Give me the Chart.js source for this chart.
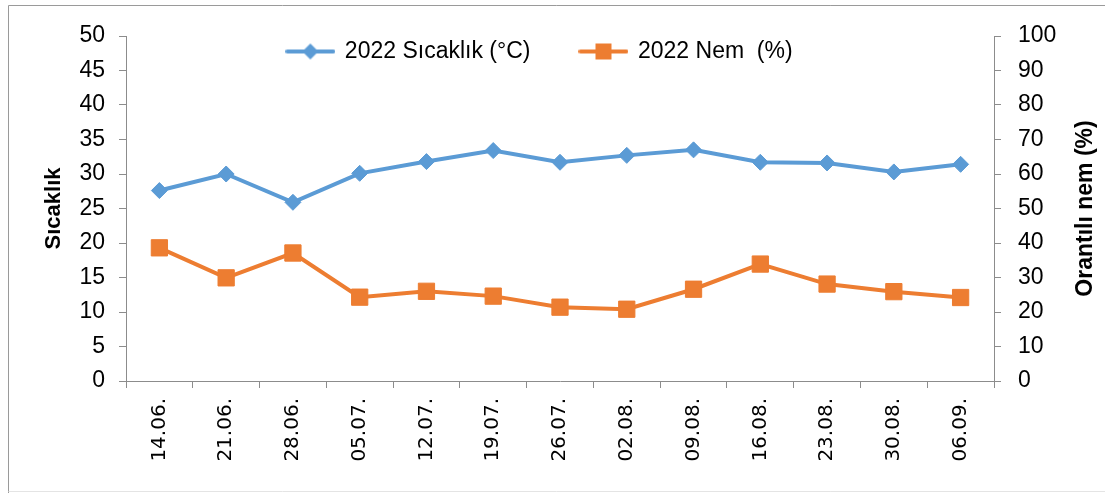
<!DOCTYPE html>
<html>
<head>
<meta charset="utf-8">
<script src="https://cdn.jsdelivr.net/npm/chart.js@4"></script>
<style>
  html, body { margin: 0; padding: 0; background: #fff; }
  #wrap { position: relative; width: 1105px; height: 493px; overflow: hidden; }
</style>
</head>
<body>
<div id="wrap"><canvas id="climateChart" width="1105" height="493"></canvas></div>
<script>
// Weekly readings
const dates = ["14.06.", "21.06.", "28.06.", "05.07.", "12.07.", "19.07.", "26.07.",
               "02.08.", "09.08.", "16.08.", "23.08.", "30.08.", "06.09."];
const temperature = [27.6, 30.0, 25.9, 30.1, 31.8, 33.4, 31.7, 32.7, 33.5, 31.7, 31.6, 30.3, 31.4];
const humidity = [38.6, 29.9, 37.1, 24.3, 26.0, 24.6, 21.4, 20.8, 26.6, 33.9, 28.1, 25.9, 24.2];
const tempTicks = [0, 50, 5];
const humTicks = [0, 100, 10];

const blue = "#5B9BD5";
const orange = "#ED7D31";
const axisGray = "#8C8C8C";
const font = "Liberation Sans";

// little line+marker swatches for the legend
function swatch(color, shape) {
  const c = document.createElement("canvas");
  c.width = 50; c.height = 20;
  const g = c.getContext("2d");
  g.strokeStyle = color; g.lineWidth = 4; g.lineCap = "round";
  g.beginPath(); g.moveTo(2, 10); g.lineTo(48, 10); g.stroke();
  g.fillStyle = color;
  g.beginPath();
  if (shape === "diamond") {
    g.moveTo(25, 2); g.lineTo(33, 10); g.lineTo(25, 18); g.lineTo(17, 10);
  } else {
    g.rect(17, 2, 16, 16);
  }
  g.fill();
  return c;
}

// legend sits inside the plot area, like the original
const legendSpot = {
  id: "legendSpot",
  beforeInit(chart) {
    const fit = chart.legend.fit;
    chart.legend.fit = function () { fit.call(this); this.height = 0; };
  },
  afterLayout(chart) {
    const l = chart.legend;
    l.top = 40 - 50;
    l.bottom = 90;
    l.height = l.bottom - l.top;
    l.left = 0;
    l.right = 1080;
    l.width = 1080;
  }
};

// outer frame + right axis title (reads bottom to top)
const decor = {
  id: "decor",
  beforeDraw(chart) {
    const ctx = chart.ctx;
    ctx.save();
    ctx.strokeStyle = "#9a9a9a";
    ctx.lineWidth = 1;
    ctx.beginPath();
    ctx.moveTo(8.5, 493); ctx.lineTo(8.5, 5.5); ctx.lineTo(1105, 5.5);
    ctx.stroke();
    ctx.strokeStyle = "#e4e4e4";
    ctx.beginPath(); ctx.moveTo(8.5, 491.5); ctx.lineTo(1105, 491.5); ctx.stroke();
    ctx.restore();
  },
  afterDraw(chart) {
    const ctx = chart.ctx;
    const s = chart.scales.y1;
    ctx.save();
    ctx.translate(s.right - 19, (s.top + s.bottom) / 2);
    ctx.rotate(-Math.PI / 2);
    ctx.font = "bold 23px '" + font + "'";
    ctx.fillStyle = "#000";
    ctx.textAlign = "center";
    ctx.textBaseline = "middle";
    ctx.fillText("Orantılı nem (%)", 0, 0);
    ctx.restore();
  }
};

Chart.defaults.font.family = font;
Chart.defaults.font.size = 23;
Chart.defaults.color = "#000";

new Chart(document.getElementById("climateChart"), {
  type: "line",
  data: {
    labels: dates,
    datasets: [
      {
        label: "2022 Sıcaklık (°C)",
        data: temperature,
        yAxisID: "y",
        borderColor: blue,
        backgroundColor: blue,
        borderWidth: 4,
        pointStyle: "rectRot",
        pointRadius: 8,
        pointBorderWidth: 1,
        tension: 0
      },
      {
        label: "2022 Nem  (%)",
        data: humidity,
        yAxisID: "y1",
        borderColor: orange,
        backgroundColor: orange,
        borderWidth: 4,
        pointStyle: "rect",
        pointRadius: 11.5,
        pointBorderWidth: 1,
        tension: 0
      }
    ]
  },
  options: {
    responsive: false,
    animation: false,
    devicePixelRatio: 1,
    layout: { padding: { top: 36, left: 0, right: 0, bottom: 0 } },
    plugins: {
      tooltip: { enabled: false },
      legend: {
        position: "top",
        labels: {
          usePointStyle: true,
          pointStyleWidth: 46,
          padding: 50,
          font: { size: 23 },
          generateLabels: (chart) => [
            { text: chart.data.datasets[0].label, pointStyle: swatch(blue, "diamond"), datasetIndex: 0, lineWidth: 0, fontColor: "#000" },
            { text: chart.data.datasets[1].label, pointStyle: swatch(orange, "square"), datasetIndex: 1, lineWidth: 0, fontColor: "#000" }
          ]
        }
      }
    },
    scales: {
      x: {
        offset: true,
        grid: { offset: true, drawOnChartArea: false, drawTicks: true, tickLength: 7, color: axisGray },
        border: { color: axisGray },
        ticks: {
          minRotation: 90, maxRotation: 90, autoSkip: false, padding: 10,
          font: { family: "DejaVu Sans", size: 20 }
        },
        afterFit: (s) => { s.height = 112; }
      },
      y: {
        position: "left",
        min: tempTicks[0], max: tempTicks[1],
        ticks: { stepSize: tempTicks[2], padding: 14 },
        grid: { drawOnChartArea: false, tickLength: 7, color: axisGray },
        border: { color: axisGray },
        title: { display: true, text: "Sıcaklık", font: { size: 22, weight: "bold" }, padding: { top: 41, bottom: 0 } },
        afterFit: (s) => { s.width = 126; }
      },
      y1: {
        position: "right",
        min: humTicks[0], max: humTicks[1],
        ticks: { stepSize: humTicks[2], padding: 17 },
        grid: { drawOnChartArea: false, tickLength: 7, color: axisGray },
        border: { color: axisGray },
        afterFit: (s) => { s.width = 111; }
      }
    }
  },
  plugins: [legendSpot, decor]
});
</script>
</body>
</html>
